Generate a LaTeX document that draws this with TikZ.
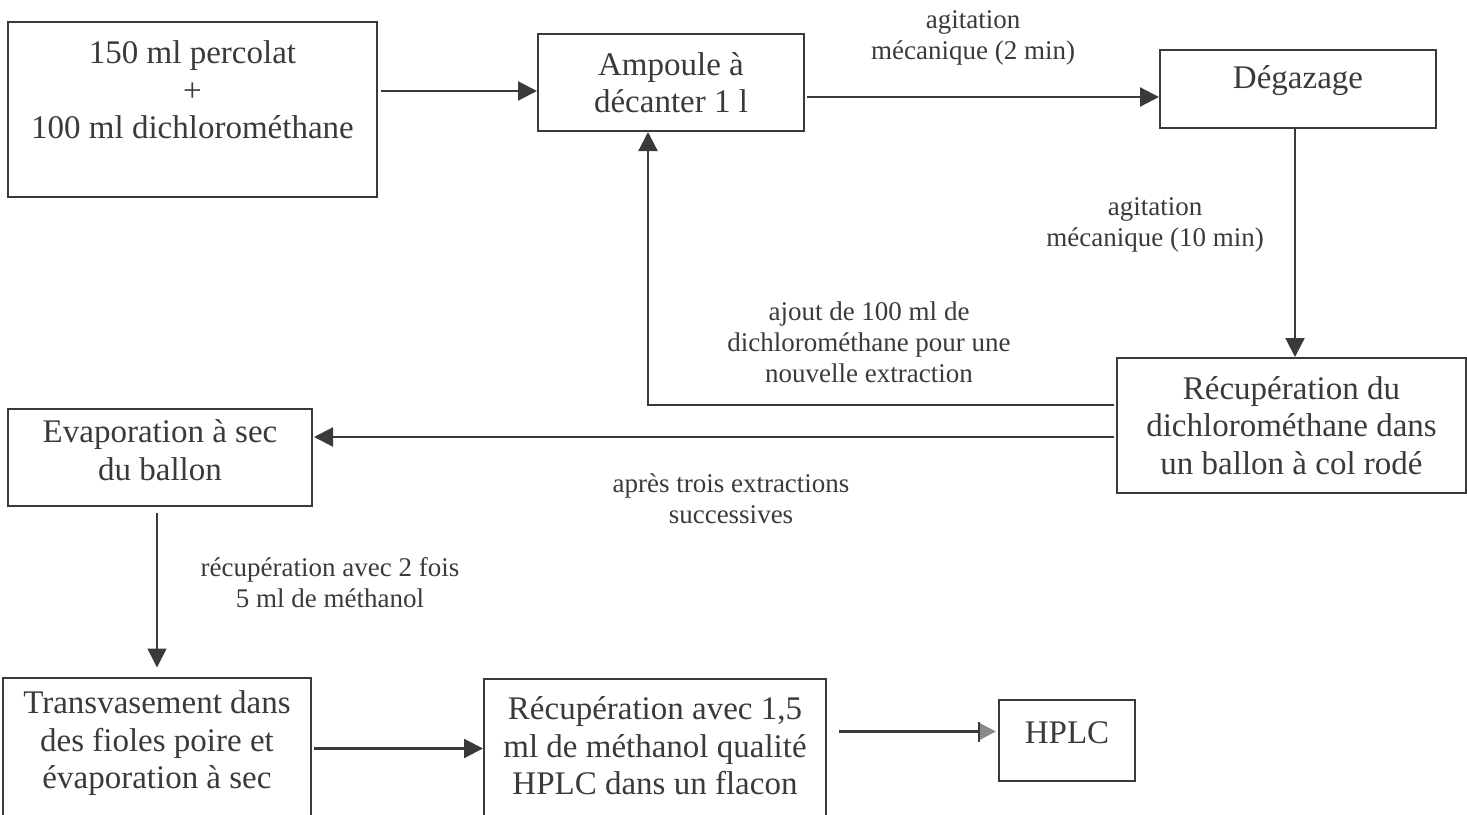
\documentclass[tikz,border=0pt]{standalone}
\usepackage{fontspec}
\setmainfont{Liberation Serif}
\usetikzlibrary{arrows.meta,positioning,calc}
\definecolor{ink}{HTML}{3A3A3A}
\newcommand{\dropby}[1]{\rule[-#1]{0pt}{0pt}}

\begin{document}
\begin{tikzpicture}[x=0.5pt,y=-0.5pt,
    box/.style={draw=ink,line width=1pt,text=ink,align=center,inner sep=0pt,
      font=\fontsize{16.5}{18.75}\selectfont},
    note/.style={text=ink,align=center,font=\fontsize{13.5}{15.5}\selectfont},
    arr/.style={draw=ink,line width=1.1pt,-{Triangle[length=9.5pt,width=9.5pt]}}]
      % Page
      \clip (0,0) rectangle (1467,814);
      \useasboundingbox (0,0) rectangle (1467,814);
      % Boxes
      \node[box,minimum width=184.5pt,minimum height=87.5pt] (perc) at (192.5,109.5)
        {150 ml percolat\\+\\100 ml dichlorométhane\dropby{19.5pt}};
      \node[box,minimum width=133pt,minimum height=48.5pt] (ampoule) at (671,82.5)
        {Ampoule à\\décanter 1 l};
      \node[box,minimum width=138pt,minimum height=39pt] (degaz) at (1298,89)
        {Dégazage\dropby{12pt}};
      \node[box,minimum width=174.5pt,minimum height=67.5pt] (recup) at (1291.5,425.5)
        {Récupération du\\dichlorométhane dans\\un ballon à col rodé};
      \node[box,minimum width=152pt,minimum height=48.5pt] (evap) at (160,457)
        {Evaporation à sec\\du ballon\dropby{7pt}};
      \node[box,minimum width=154pt,minimum height=71pt] (transv) at (157,748.5)
        {Transvasement dans\\des fioles poire et\\évaporation à sec\dropby{8.5pt}};
      \node[box,minimum width=171pt,minimum height=70.5pt] (flacon) at (655,749)
        {Récupération avec 1,5\\ml de méthanol qualité\\HPLC dans un flacon\dropby{3pt}};
      \node[box,minimum width=68pt,minimum height=40.5pt] (hplc) at (1067,740.5)
        {HPLC\dropby{8pt}};
      % Labels
      \node[note] (agit1) at (973,38) {agitation\\mécanique (2 min)};
      \node[note] (agit2) at (1155,225) {agitation\\mécanique (10 min)};
      \node[note] (ajout) at (869,342) {ajout de 100 ml de\\dichlorométhane pour une\\nouvelle extraction};
      \node[note] (apres) at (731,499) {après trois extractions\\successives};
      \node[note] (meth) at (330,583) {récupération avec 2 fois\\5 ml de méthanol};
      % Arrows
      \coordinate (p1) at ([yshift=9.25pt]perc.east);
      \draw[arr,shorten <=1.5pt] (p1) -- (p1 -| ampoule.west);
      \coordinate (p2) at ([yshift=-7.25pt]ampoule.east);
      \draw[arr,shorten <=1pt] (p2) -- (p2 -| degaz.west);
      \coordinate (p3) at ([xshift=-1.5pt]degaz.south);
      \draw[arr] (p3) -- (p3 |- recup.north);
      \coordinate (p4) at ([yshift=10.25pt]recup.west);
      \draw[arr,shorten <=1pt] (p4) -| ([xshift=-11.5pt]ampoule.south);
      \coordinate (p5) at ([yshift=-5.75pt]recup.west);
      \draw[arr,shorten <=1pt,shorten >=0.5pt] (p5) -- (p5 -| evap.east);
      \draw[arr,line width=0.8pt,shorten <=3pt,shorten >=4.5pt] ([xshift=-1.5pt]evap.south) -- (transv.north);
      \draw[arr,shorten <=1pt] (transv.east) -- (transv.east -| flacon.west);
      \coordinate (p8) at ([yshift=8.75pt]flacon.east);
      \draw[draw=ink,line width=1.1pt,shorten <=6pt,shorten >=1pt,
        -{Bar[width=10pt,sep=0pt]Triangle[length=8pt,width=8pt,color=ink!60]}]
        (p8) -- (p8 -| hplc.west);
\end{tikzpicture}
\end{document}
